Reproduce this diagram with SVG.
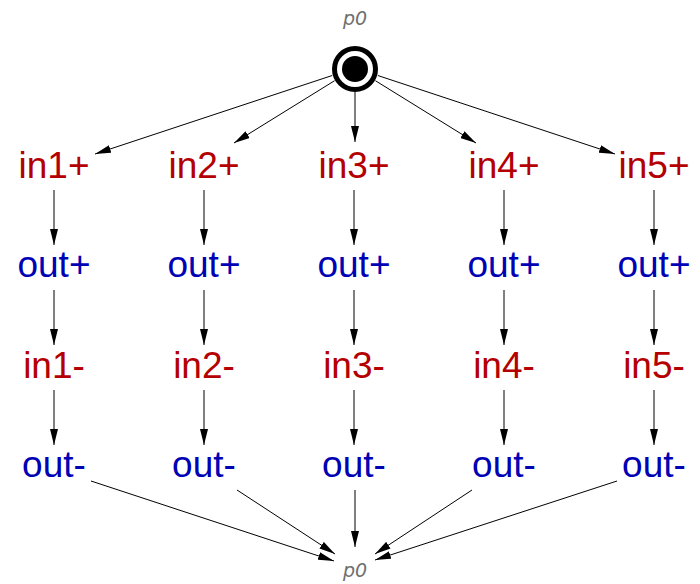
<svg xmlns="http://www.w3.org/2000/svg" width="700" height="584" viewBox="0 0 700 584">
<defs>
<style>
.in{font-family:"Liberation Sans",Arial,sans-serif;font-size:37px;fill:#b40000;text-anchor:middle}
.out{font-family:"Liberation Sans",Arial,sans-serif;font-size:37px;fill:#0000b4;text-anchor:middle}
.pl{font-family:"DejaVu Sans",sans-serif;font-size:19px;font-style:italic;fill:#707070;text-anchor:middle}
.arc{stroke:#000;stroke-width:1;fill:none;marker-end:url(#ah)}
</style>
<marker id="ah" markerUnits="userSpaceOnUse" markerWidth="16" markerHeight="8" refX="16" refY="4" orient="auto">
<path d="M0,0 L16,4 L0,8 z" fill="#000"/>
</marker>
</defs>
<rect width="700" height="584" fill="#fff"/>
<g id="connectors">
<line class="arc" x1="332.2" y1="75.5" x2="95" y2="154"/>
<line class="arc" x1="334.6" y1="80.7" x2="234" y2="143"/>
<line class="arc" x1="355" y1="92" x2="355" y2="142"/>
<line class="arc" x1="375.4" y1="80.7" x2="476" y2="143"/>
<line class="arc" x1="377.8" y1="75.5" x2="615" y2="154"/>
<line class="arc" x1="54" y1="190" x2="54" y2="245"/>
<line class="arc" x1="204" y1="190" x2="204" y2="245"/>
<line class="arc" x1="354" y1="190" x2="354" y2="245"/>
<line class="arc" x1="504" y1="190" x2="504" y2="245"/>
<line class="arc" x1="654" y1="190" x2="654" y2="245"/>
<line class="arc" x1="54" y1="290" x2="54" y2="345"/>
<line class="arc" x1="204" y1="290" x2="204" y2="345"/>
<line class="arc" x1="354" y1="290" x2="354" y2="345"/>
<line class="arc" x1="504" y1="290" x2="504" y2="345"/>
<line class="arc" x1="654" y1="290" x2="654" y2="345"/>
<line class="arc" x1="54" y1="390" x2="54" y2="445"/>
<line class="arc" x1="204" y1="390" x2="204" y2="445"/>
<line class="arc" x1="354" y1="390" x2="354" y2="445"/>
<line class="arc" x1="504" y1="390" x2="504" y2="445"/>
<line class="arc" x1="654" y1="390" x2="654" y2="445"/>
<line class="arc" x1="91" y1="481" x2="334" y2="561"/>
<line class="arc" x1="237" y1="490" x2="335" y2="554"/>
<line class="arc" x1="355" y1="490" x2="355" y2="547"/>
<line class="arc" x1="472" y1="490" x2="375" y2="554"/>
<line class="arc" x1="617" y1="481" x2="375" y2="560"/>
</g>
<g id="p0">
<text class="pl" x="355" y="25">p0</text>
<circle cx="355" cy="69" r="20.5" fill="#fff" stroke="#000" stroke-width="5"/>
<circle cx="355" cy="69" r="13" fill="#000"/>
</g>
<g id="in1p"><text class="in" x="54" y="178">in1+</text></g>
<g id="in2p"><text class="in" x="204" y="178">in2+</text></g>
<g id="in3p"><text class="in" x="354" y="178">in3+</text></g>
<g id="in4p"><text class="in" x="504" y="178">in4+</text></g>
<g id="in5p"><text class="in" x="654" y="178">in5+</text></g>
<g id="outp1"><text class="out" x="54" y="277">out+</text></g>
<g id="outp2"><text class="out" x="204" y="277">out+</text></g>
<g id="outp3"><text class="out" x="354" y="277">out+</text></g>
<g id="outp4"><text class="out" x="504" y="277">out+</text></g>
<g id="outp5"><text class="out" x="654" y="277">out+</text></g>
<g id="in1m"><text class="in" x="54" y="378">in1-</text></g>
<g id="in2m"><text class="in" x="204" y="378">in2-</text></g>
<g id="in3m"><text class="in" x="354" y="378">in3-</text></g>
<g id="in4m"><text class="in" x="504" y="378">in4-</text></g>
<g id="in5m"><text class="in" x="654" y="378">in5-</text></g>
<g id="outm1"><text class="out" x="54" y="477">out-</text></g>
<g id="outm2"><text class="out" x="204" y="477">out-</text></g>
<g id="outm3"><text class="out" x="354" y="477">out-</text></g>
<g id="outm4"><text class="out" x="504" y="477">out-</text></g>
<g id="outm5"><text class="out" x="654" y="477">out-</text></g>
<g id="p0b"><text class="pl" x="355" y="576.5">p0</text></g>
</svg>
